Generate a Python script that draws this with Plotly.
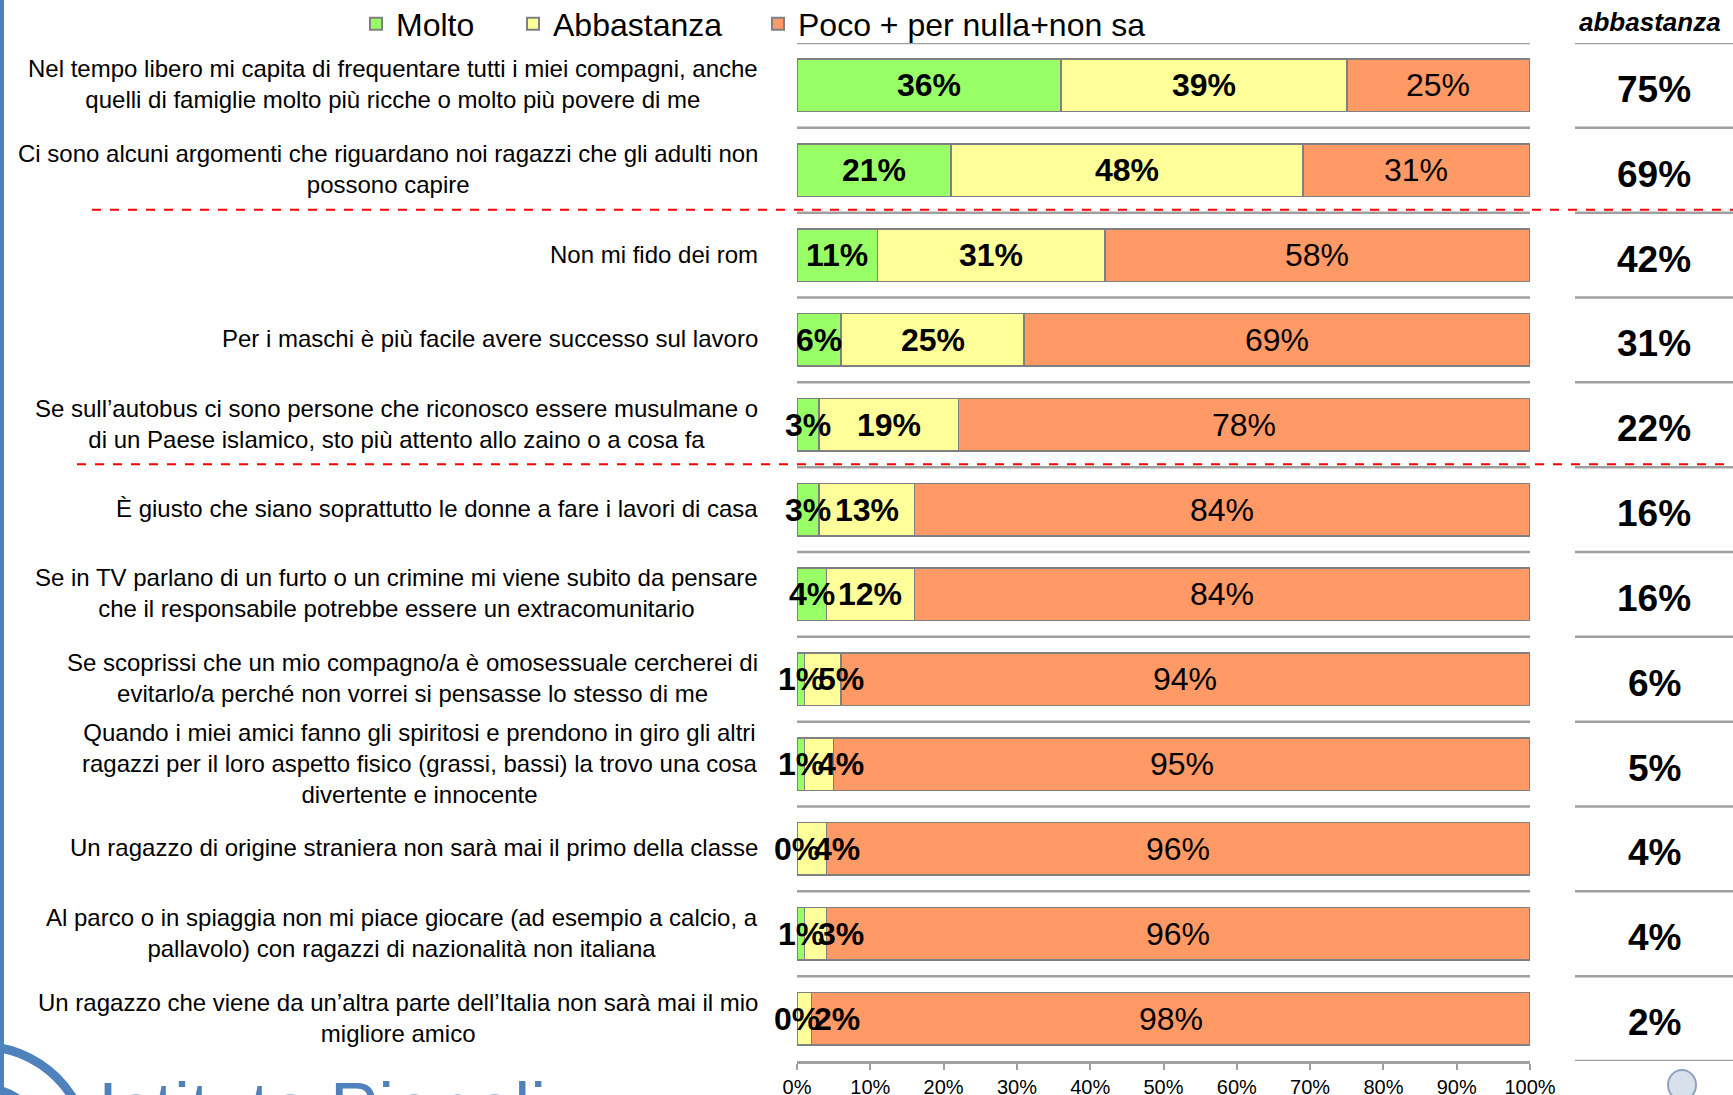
import plotly.graph_objects as go

categories = [
    "Nel tempo libero mi capita di frequentare tutti i miei compagni, anche<br>quelli di famiglie molto più ricche o molto più povere di me",
    "Ci sono alcuni argomenti che riguardano noi ragazzi che gli adulti non<br>possono capire",
    "Non mi fido dei rom",
    "Per i maschi è più facile avere successo sul lavoro",
    "Se sull’autobus ci sono persone che riconosco essere musulmane o<br>di un Paese islamico, sto più attento allo zaino o a cosa fa",
    "È giusto che siano soprattutto le donne a fare i lavori di casa",
    "Se in TV parlano di un furto o un crimine mi viene subito da pensare<br>che il responsabile potrebbe essere un extracomunitario",
    "Se scoprissi che un mio compagno/a è omosessuale cercherei di<br>evitarlo/a perché non vorrei si pensasse lo stesso di me",
    "Quando i miei amici fanno gli spiritosi e prendono in giro gli altri<br>ragazzi per il loro aspetto fisico (grassi, bassi) la trovo una cosa<br>divertente e innocente",
    "Un ragazzo di origine straniera non sarà mai il primo della classe",
    "Al parco o in spiaggia non mi piace giocare (ad esempio a calcio, a<br>pallavolo) con ragazzi di nazionalità non italiana",
    "Un ragazzo che viene da un’altra parte dell’Italia non sarà mai il mio<br>migliore amico",
]
molto = [36, 21, 11, 6, 3, 3, 4, 1, 1, 0, 1, 0]
abbastanza = [39, 48, 31, 25, 19, 13, 12, 5, 4, 4, 3, 2]
poco = [25, 31, 58, 69, 78, 84, 84, 94, 95, 96, 96, 98]
tot_abbastanza = [75, 69, 42, 31, 22, 16, 16, 6, 5, 4, 4, 2]
series_names = ["Molto", "Abbastanza", "Poco + per nulla+non sa"]
colors = ["#99FF66", "#FFFF99", "#FF9966"]
separators_after = [1, 4]  # red dashed lines after these rows
x_ticks = [0, 10, 20, 30, 40, 50, 60, 70, 80, 90, 100]

FONT = "Liberation Sans, Arial, sans-serif"
W, H = 1733, 1095
L, R, T, B = 797, 203, 43, 34
PW = W - L - R
PH = H - T - B

def px2paper_x(px):
    return (px - L) / PW

def px2paper_y(py):
    return 1 - (py - T) / PH

n = len(categories)
ys = list(range(n))

fig = go.Figure()
legends = ["legend", "legend2", "legend3"]
for name, vals, col, lg in zip(series_names, [molto, abbastanza, poco], colors, legends):
    fig.add_trace(go.Bar(
        y=ys, x=vals, name=name, orientation="h",
        marker=dict(color=col, line=dict(color="#808080", width=1.5)),
        width=0.62, legend=lg, hoverinfo="skip",
    ))

shapes = []
annotations = []

# value labels inside bars
px_per_unit = PW / 100.0
min_gap = 40 / px_per_unit
g_pos = [m / 2 for m in molto]
y_pos = []
for m, a, gp in zip(molto, abbastanza, g_pos):
    c = m + a / 2
    y_pos.append(max(c, gp + min_gap))
o_pos = [m + a + p / 2 for m, a, p in zip(molto, abbastanza, poco)]

LBL = 32
for i in ys:
    for xp, txt in [(g_pos[i], f"<b>{molto[i]}%</b>"),
                    (y_pos[i], f"<b>{abbastanza[i]}%</b>"),
                    (o_pos[i], f"{poco[i]}%")]:
        annotations.append(dict(xref="x", yref="y", x=xp, y=i, yshift=0, xanchor="center",
                                yanchor="middle", text=txt, showarrow=False,
                                font=dict(size=LBL, color="black", family=FONT)))

# gray row separators in bar area and right column
for k in range(n):
    yb = k - 0.5
    shapes.append(dict(type="line", xref="paper", yref="y", x0=0, x1=1, y0=yb, y1=yb,
                       line=dict(color="#A0A0A0", width=2.5), layer="below"))
for k in range(n + 1):
    yb = k - 0.5
    shapes.append(dict(type="line", xref="paper", yref="y", x0=px2paper_x(1575), x1=px2paper_x(1733),
                       y0=yb, y1=yb, line=dict(color="#A0A0A0", width=2.5)))
# red dashed separators
for i, s in enumerate(separators_after):
    yb = s + 0.5 - 0.035
    x0 = px2paper_x(92) if i == 0 else px2paper_x(77)
    shapes.append(dict(type="line", xref="paper", yref="y", x0=x0, x1=px2paper_x(1733),
                       y0=yb, y1=yb, line=dict(color="#FF0000", width=2, dash="dash")))
# left blue border
shapes.append(dict(type="line", xref="paper", yref="paper", x0=px2paper_x(2), x1=px2paper_x(2),
                   y0=px2paper_y(0), y1=px2paper_y(H), line=dict(color="#4F81BD", width=4)))
# logo arcs
for r, wdt in [(109, 9), (68, 8)]:
    cx, cy = -20, 1155
    shapes.append(dict(type="circle", xref="paper", yref="paper",
                       x0=px2paper_x(cx - r), x1=px2paper_x(cx + r),
                       y0=px2paper_y(cy + r), y1=px2paper_y(cy - r),
                       line=dict(color="#4F81BD", width=wdt)))
# emblem
shapes.append(dict(type="circle", xref="paper", yref="paper",
                   x0=px2paper_x(1668), x1=px2paper_x(1696),
                   y0=px2paper_y(1100), y1=px2paper_y(1070),
                   line=dict(color="#8FA3C0", width=2), fillcolor="#D8E0EC"))

for i, cat in enumerate(categories):
    annotations.append(dict(xref="paper", yref="y", x=0, y=i, xshift=-37, yshift=1,
                            xanchor="right", yanchor="middle", align="center", text=cat,
                            showarrow=False, font=dict(size=24, color="black", family=FONT)))
for i, v in enumerate(tot_abbastanza):
    annotations.append(dict(xref="paper", yref="y", x=px2paper_x(1654), y=i, yshift=-4,
                            xanchor="center", yanchor="middle", text=f"<b>{v}%</b>",
                            showarrow=False, font=dict(size=37, color="black", family=FONT)))
annotations.append(dict(xref="paper", yref="paper", x=px2paper_x(1650), y=px2paper_y(22),
                        xanchor="center", yanchor="middle", text="<b><i>abbastanza</i></b>",
                        showarrow=False, font=dict(size=26, color="black", family=FONT)))
annotations.append(dict(xref="paper", yref="paper", x=px2paper_x(96), y=px2paper_y(1066),
                        xanchor="left", yanchor="top", text="Istituto Piepoli",
                        showarrow=False, font=dict(size=72, color="#4F81BD", family=FONT)))

leg_common = dict(orientation="h", yanchor="middle", xanchor="left",
                  font=dict(size=32, color="black", family=FONT), bgcolor="rgba(0,0,0,0)",
                  itemsizing="constant", itemwidth=30)
legend_text_starts = [398, 555, 800]

fig.update_layout(
    width=W, height=H,
    margin=dict(l=L, r=R, t=T, b=B, autoexpand=False),
    barmode="stack",
    bargap=0.38,
    plot_bgcolor="white", paper_bgcolor="white",
    font=dict(family=FONT, color="black"),
    xaxis=dict(range=[0, 100], tickvals=x_ticks, ticktext=[f"{t}%" for t in x_ticks],
               showgrid=False, zeroline=False, showline=True, linecolor="#A0A0A0", linewidth=2.5,
               ticks="outside", ticklen=6, tickcolor="#A0A0A0", tickwidth=2,
               tickfont=dict(size=20, color="black", family=FONT)),
    yaxis=dict(range=[n - 0.5, -0.5], showticklabels=False, showgrid=False, zeroline=False,
               ticks="", fixedrange=True),
    shapes=shapes,
    annotations=annotations,
    showlegend=True,
)
for lg, ts in zip(legends, legend_text_starts):
    fig.update_layout({lg: dict(leg_common, x=px2paper_x(ts - 42), y=px2paper_y(24))})

fig.write_html("out.html", config={"displayModeBar": False},
               post_script="document.body.style.margin='0';document.body.style.overflow='hidden';")
